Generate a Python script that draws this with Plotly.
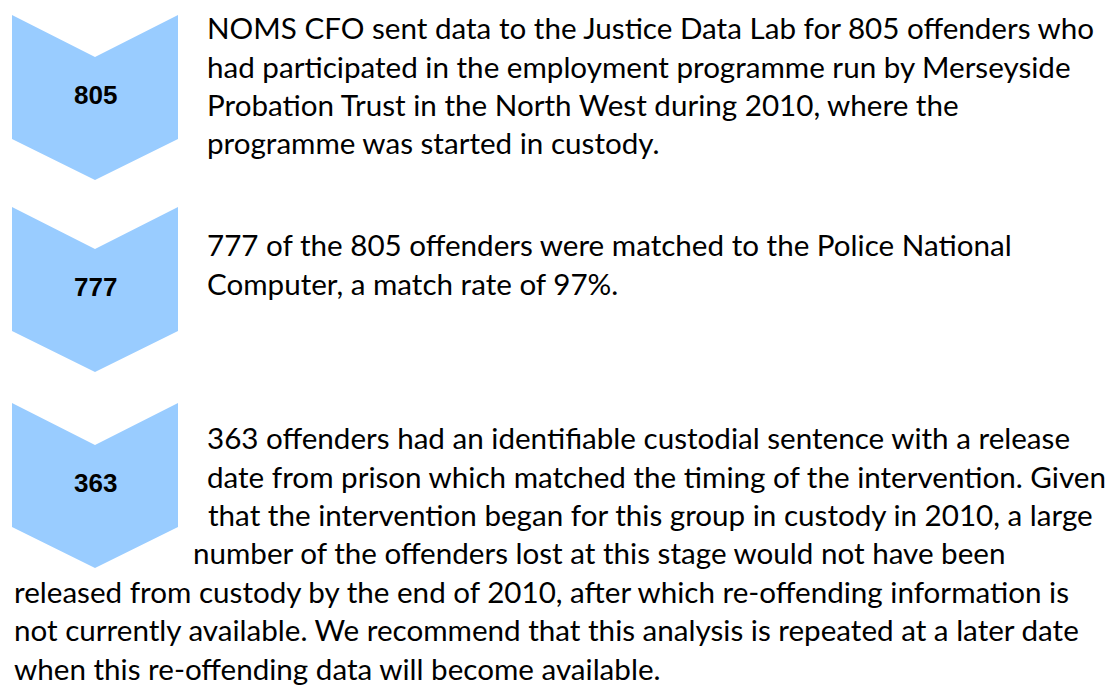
import plotly.graph_objects as go

# ---- data ----
counts = [805, 777, 363]
para_lines = [
    ["NOMS CFO sent data to the Justice Data Lab for 805 offenders who",
     "had participated in the employment programme run by Merseyside",
     "Probation Trust in the North West during 2010, where the",
     "programme was started in custody."],
    ["777 of the 805 offenders were matched to the Police National",
     "Computer, a match rate of 97%."],
    ["363 offenders had an identifiable custodial sentence with a release",
     "date from prison which matched the timing of the intervention. Given",
     "that the intervention began for this group in custody in 2010, a large",
     "number of the offenders lost at this stage would not have been",
     "released from custody by the end of 2010, after which re-offending information is",
     "not currently available. We recommend that this analysis is repeated at a later date",
     "when this re-offending data will become available."],
]

# ---- layout constants (page pixel coordinates) ----
W, H = 1116, 687
OFF = 8  # default page body margin
chev_tops = [15, 207, 403]
chev_left, chev_right = 12, 178
notch, side, point = 42, 124, 165
chev_color = "#99CCFF"
para_first_baseline = [38, 255, 448]
line_gap = 38.4
line_x = [[205, 205, 205, 205], [205, 205], [205, 205, 206, 191, 12, 12, 12]]
text_font = dict(family="Lato", size=29.6, color="#000000")
num_font = dict(family="Liberation Sans", size=26, color="#000000")

fig = go.Figure()
shapes = []
annotations = []
cx = (chev_left + chev_right) / 2
for i, c in enumerate(counts):
    t = chev_tops[i]
    path = (f"M {chev_left},{t} L {cx},{t+notch} L {chev_right},{t} "
            f"L {chev_right},{t+side} L {cx},{t+point} L {chev_left},{t+side} Z")
    shapes.append(dict(type="path", path=path, xref="x", yref="y",
                       fillcolor=chev_color, line=dict(width=0), layer="below"))
    annotations.append(dict(x=cx, y=t + 80, xref="x", yref="y",
                            text=f"<b>{c}</b>", showarrow=False, font=num_font,
                            xanchor="center", yanchor="middle"))
    for j, line in enumerate(para_lines[i]):
        base = para_first_baseline[i] + j * line_gap
        annotations.append(dict(x=line_x[i][j], y=base - 0.35 * text_font["size"],
                                xref="x", yref="y", text=line, showarrow=False,
                                font=text_font, xanchor="left", yanchor="middle"))

fig.update_layout(
    width=W - OFF, height=H - OFF, margin=dict(l=0, r=0, t=0, b=0),
    paper_bgcolor="white", plot_bgcolor="white",
    xaxis=dict(range=[OFF, W], visible=False, fixedrange=True),
    yaxis=dict(range=[H, OFF], visible=False, fixedrange=True),
    shapes=shapes, annotations=annotations, showlegend=False,
)
fig.write_html("out.html", config={"displayModeBar": False})
